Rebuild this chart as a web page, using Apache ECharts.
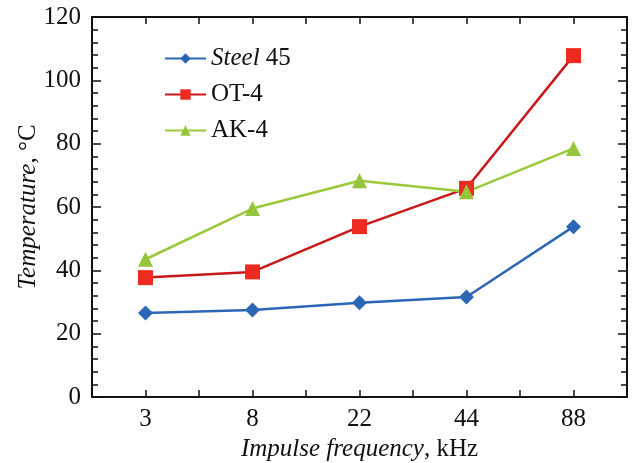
<!DOCTYPE html>
<html lang="en">
<head>
    <meta charset="UTF-8">
    <title>Temperature vs impulse frequency</title>
    <script src="https://cdn.jsdelivr.net/npm/echarts@6.0.0/dist/echarts.min.js"></script>
    <style>
        html, body { margin: 0; padding: 0; background: #fff; }
        #chart { width: 632px; height: 463px; }
    </style>
</head>
<body>
    <div id="chart"></div>
    <script>
        // data
        const frequencies = ['3', '8', '22', '44', '88'];
        const steel45 = [26.5, 27.5, 29.8, 31.6, 53.8];
        const ot4 = [37.7, 39.5, 53.8, 65.9, 107.8];
        const ak4 = [43.5, 59.5, 68.3, 64.8, 78.5];
        const yTicks = [0, 20, 40, 60, 80, 100, 120];

        // the x frame has a tick at every category and halfway between them,
        // so the axis gets an empty slot around each frequency
        const xSlots = [''];
        frequencies.forEach(f => xSlots.push(f, ''));
        function spread(values) {
            const out = [null];
            values.forEach(v => out.push(v, null));
            return out;
        }

        const font = 'Liberation Serif';
        const fs = 25;

        const chart = echarts.init(document.getElementById('chart'));

        const frameLine = { show: true, onZero: false, lineStyle: { color: '#111', width: 2 } };
        const tickStyle = { color: '#111', width: 1.5 };
        const italic = { fontFamily: font, fontSize: fs, fontStyle: 'italic', color: '#111' };

        function xFrame(pos, withLabels) {
            return {
                type: 'category',
                data: xSlots,
                boundaryGap: false,
                position: pos,
                axisLine: frameLine,
                axisTick: { show: true, inside: true, length: 7, interval: 0, lineStyle: tickStyle },
                axisLabel: { show: withLabels, interval: 0, fontFamily: font, fontSize: fs, color: '#111', margin: 10 },
                splitLine: { show: false }
            };
        }

        function yFrame(pos, withLabels) {
            return {
                type: 'value',
                min: yTicks[0],
                max: yTicks[yTicks.length - 1],
                interval: 20,
                position: pos,
                axisLine: frameLine,
                axisTick: { show: true, inside: true, length: 9, lineStyle: tickStyle },
                minorTick: { show: true, splitNumber: 5, length: 6, lineStyle: tickStyle },
                axisLabel: { show: withLabels, fontFamily: font, fontSize: fs, color: '#111', margin: 11 },
                splitLine: { show: false }
            };
        }

        const xBottom = xFrame('bottom', true);
        xBottom.name = '{i|Impulse frequency}, kHz';
        xBottom.nameLocation = 'middle';
        xBottom.nameGap = 39;
        xBottom.nameTextStyle = { fontFamily: font, fontSize: fs, color: '#111', rich: { i: italic } };

        const yLeft = yFrame('left', true);
        yLeft.name = '{i|Temperature}, °C';
        yLeft.nameLocation = 'middle';
        yLeft.nameRotate = 90;
        yLeft.nameGap = 51;
        yLeft.nameMoveOverlap = false;
        yLeft.nameTextStyle = { fontFamily: font, fontSize: fs, color: '#111', rich: { i: italic } };

        const option = {
            animation: false,
            grid: { left: 92, right: 5, top: 17, bottom: 66, outerBoundsMode: 'none' },
            legend: {
                orient: 'vertical',
                left: 159,
                top: 41,
                itemWidth: 41,
                itemHeight: 13,
                itemGap: 11,
                data: ['Steel 45', 'OT-4', 'AK-4'],
                formatter: function (name) {
                    return name === 'Steel 45' ? '{i|Steel} 45' : name;
                },
                textStyle: {
                    fontFamily: font,
                    fontSize: fs,
                    color: '#111',
                    rich: { i: italic }
                }
            },
            xAxis: [xBottom, xFrame('top', false)],
            yAxis: [yLeft, yFrame('right', false)],
            series: [
                {
                    name: 'Steel 45',
                    type: 'line',
                    data: spread(steel45),
                    connectNulls: true,
                    symbol: 'diamond',
                    symbolSize: 15,
                    color: '#2c67b6',
                    lineStyle: { width: 2.5, color: '#2c67b6' },
                    itemStyle: { color: '#2c67b6' }
                },
                {
                    name: 'OT-4',
                    type: 'line',
                    data: spread(ot4),
                    connectNulls: true,
                    symbol: 'rect',
                    symbolSize: 15,
                    color: '#e8261e',
                    lineStyle: { width: 2.5, color: '#c8191a' },
                    itemStyle: { color: '#ee2b20' }
                },
                {
                    name: 'AK-4',
                    type: 'line',
                    data: spread(ak4),
                    connectNulls: true,
                    symbol: 'triangle',
                    symbolSize: 15,
                    color: '#9cc93c',
                    lineStyle: { width: 2.5, color: '#9cc93c' },
                    itemStyle: { color: '#94c53a' }
                }
            ]
        };

        chart.setOption(option);
    </script>
</body>
</html>
